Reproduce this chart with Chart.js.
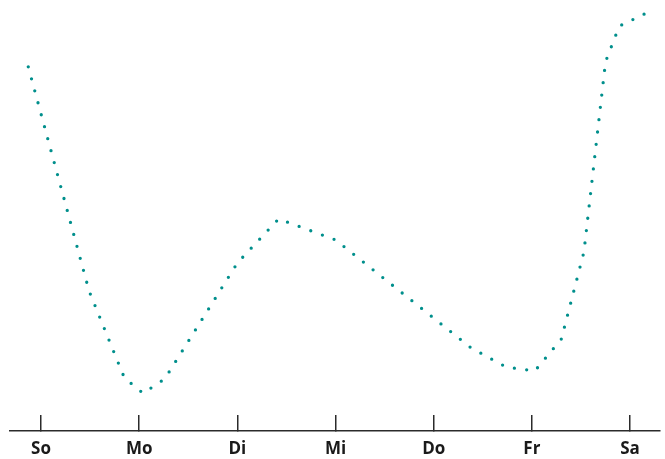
<!DOCTYPE html>
<html>
<head>
<meta charset="utf-8">
<script src="https://cdn.jsdelivr.net/npm/chart.js@4.4.1/dist/chart.umd.min.js"></script>
<style>
  html, body { margin: 0; padding: 0; background: #fff; }
  #wrap { width: 665px; height: 459px; }
</style>
</head>
<body>
<div id="wrap"><canvas id="chart" width="665" height="459"></canvas></div>
<script>
// weekday tick labels (x = 0..6)
const days = ["So", "Mo", "Di", "Mi", "Do", "Fr", "Sa"];

// series, x in days from Sunday, y on a 0-100 scale (no y axis shown)
const xs = [-0.13, 0.49, 0.85, 1.04, 1.26, 2.0, 2.42, 3.0, 4.38, 4.74, 5.03, 5.3, 5.53, 5.75, 5.89, 6.165];
const ys = [86.7, 33.3, 12.6, 9.0, 12.4, 40.0, 50.5, 45.5, 19.8, 15.2, 14.3, 21.9, 42.6, 87.9, 96.4, 99.5];

const points = xs.map((x, i) => ({ x: x, y: ys[i] }));
const axisColor = "#2b2b2b";

new Chart(document.getElementById("chart").getContext("2d"), {
  type: "line",
  data: {
    datasets: [
      {
        data: points,
        borderColor: "#008f8c",
        borderWidth: 3.3,
        borderDash: [0, 12.4],
        borderCapStyle: "round",
        borderJoinStyle: "round",
        tension: 0,
        pointRadius: 0,
        fill: false,
        clip: false,
      },
    ],
  },
  options: {
    responsive: false,
    animation: false,
    layout: { padding: { left: 10, right: 5, top: 11, bottom: 0 } },
    plugins: { legend: { display: false }, tooltip: { enabled: false } },
    scales: {
      x: {
        type: "linear",
        min: -0.316,
        max: 6.305,
        grid: {
          drawOnChartArea: false,
          drawTicks: true,
          tickLength: -16,
          color: axisColor,
          lineWidth: 1.5,
        },
        border: { display: true, color: axisColor, width: 1.5 },
        ticks: {
          stepSize: 1,
          includeBounds: false,
          autoSkip: false,
          maxRotation: 0,
          padding: 24,
          color: "#1a1a1a",
          font: { family: "'Open Sans', sans-serif", size: 17, weight: "bold" },
          callback: (v) => (Number.isInteger(v) ? days[v] : ""),
        },
        afterFit: (scale) => {
          scale.height = 28;
        },
      },
      y: {
        display: false,
        min: 0,
        max: 100,
      },
    },
  },
});
</script>
</body>
</html>
